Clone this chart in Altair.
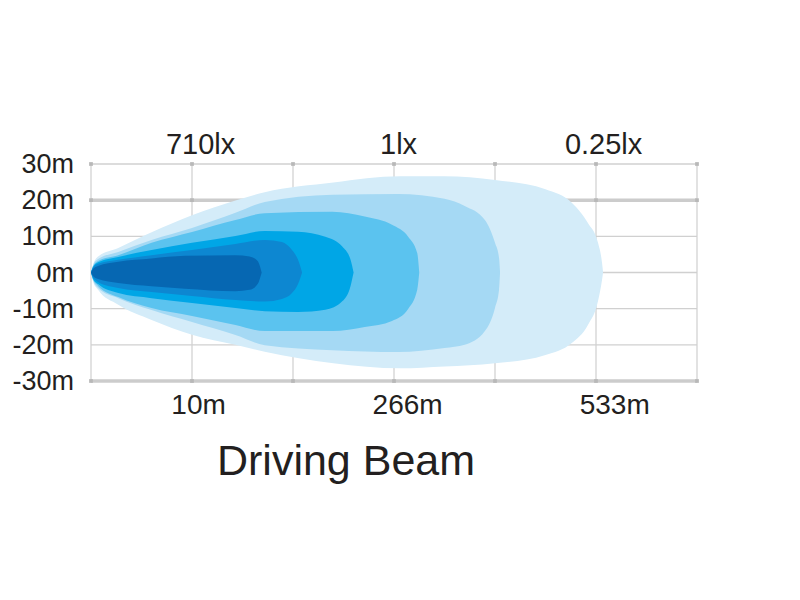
import altair as alt
import pandas as pd

# ---- beam contour levels (outer -> inner); x in grid units (0..6), y in metres ----
level_names = ["0.25lx", "1lx", "5lx", "20lx", "100lx", "710lx"]
level_colors = ["#d4ecf9", "#a5d9f4", "#5bc3ef", "#00a6e6", "#0d87d1", "#0667b2"]

u6 = [0, 0.02, 0.07, 0.27, 0.60, 1.00, 1.43, 1.72, 2.40, 3.06, 3.50, 4.00, 4.50, 4.76, 4.92, 5.02, 5.06, 5.07]
top6 = [0, 2.1, 4.4, 6.8, 11.1, 15.8, 19.9, 22.2, 24.9, 26.6, 26.6, 25.6, 23.0, 19.3, 13.7, 8.2, 2.6, 0]
bot6 = [0, -2.4, -4.8, -8.9, -13.1, -17.2, -20.0, -21.9, -25.1, -26.5, -26.0, -25.1, -22.8, -19.5, -14.5, -7.9, -2.0, 0]

u5 = [0, 0.02, 0.07, 0.27, 0.60, 1.00, 1.43, 1.72, 2.39, 3.04, 3.50, 3.70, 3.90, 4.00, 4.04, 4.05]
top5 = [0, 1.9, 3.7, 5.7, 9.0, 12.3, 16.5, 19.5, 21.5, 21.7, 20.4, 18.4, 14.5, 8.2, 4.0, 0]
bot5 = [0, -2.1, -4.3, -7.1, -10.4, -13.7, -17.3, -20.1, -21.5, -22.0, -20.9, -20.0, -16.2, -9.8, -4.8, 0]

u4 = [0, 0.02, 0.07, 0.27, 0.60, 1.00, 1.43, 1.72, 2.39, 2.71, 2.98, 3.14, 3.23, 3.25]
top4 = [0, 1.7, 3.2, 4.8, 8.2, 11.2, 14.5, 16.4, 16.8, 15.5, 13.2, 9.9, 5.4, 0]
bot4 = [0, -1.9, -3.7, -6.8, -9.8, -12.0, -14.5, -16.2, -16.2, -15.1, -13.4, -10.1, -4.8, 0]

u3 = [0, 0.02, 0.07, 0.27, 0.60, 1.00, 1.43, 1.72, 2.05, 2.32, 2.49, 2.57, 2.60]
top3 = [0, 1.5, 2.8, 4.3, 6.2, 8.2, 10.1, 11.5, 11.3, 9.9, 7.1, 3.5, 0]
bot3 = [0, -1.7, -3.2, -5.7, -7.1, -8.4, -9.8, -10.7, -10.9, -10.3, -7.9, -3.7, 0]

u2 = [0, 0.02, 0.07, 0.27, 0.60, 1.00, 1.43, 1.72, 1.89, 1.99, 2.05, 2.09]
top2 = [0, 1.3, 2.4, 3.5, 4.8, 6.2, 7.9, 9.0, 8.4, 6.2, 3.5, 0]
bot2 = [0, -1.4, -2.6, -4.3, -5.4, -6.5, -7.6, -8.0, -7.3, -5.7, -3.2, 0]

u1 = [0, 0.02, 0.07, 0.27, 0.60, 0.93, 1.43, 1.57, 1.65, 1.69]
top1 = [0, 1.0, 1.8, 3.0, 3.9, 4.6, 4.8, 4.4, 3.2, 0]
bot1 = [0, -1.0, -1.8, -2.9, -3.8, -4.5, -5.2, -4.8, -3.2, 0]

# ---- grid / axis labels ----
grid_x = [0, 1, 2, 3, 4, 5, 6]
y_ticks = [30, 20, 10, 0, -10, -20, -30]
y_labels = ["30m", "20m", "10m", "0m", "-10m", "-20m", "-30m"]
minor_y = [30, 10, 0, -10, -20]
major_y = [20, -30]
marker_y = [30, 20, -30]

top_labels = ["710lx", "1lx", "0.25lx"]
top_label_pos = [1.08, 3.04, 5.07]
bottom_labels = ["10m", "266m", "533m"]
bottom_label_pos = [1.06, 3.13, 5.18]

title_text = "Driving Beam"

# ---- build tables ----
profiles = [(u6, top6, bot6), (u5, top5, bot5), (u4, top4, bot4),
            (u3, top3, bot3), (u2, top2, bot2), (u1, top1, bot1)]
rows = []
for name, (us, ts, bs) in zip(level_names, profiles):
    for u, t, b in zip(us, ts, bs):
        rows.append({"level": name, "u": u, "top": t, "bottom": b})
beam = pd.DataFrame(rows)

W, H = 606, 217
FONT = "Liberation Sans"
TEXT = "#231f20"
xs = alt.Scale(domain=[0, 6], nice=False, zero=False)
ys = alt.Scale(domain=[-30, 30], nice=False, zero=False)


def label_expr(values, labels):
    expr = "''"
    for v, l in reversed(list(zip(values, labels))):
        expr = f"abs(datum.value - ({v})) < 0.001 ? '{l}' : ({expr})"
    return expr


vgrid = alt.Chart(pd.DataFrame({"u": grid_x})).mark_rule(color="#d3d3d3", strokeWidth=1.3).encode(
    x=alt.X("u:Q", scale=xs, axis=alt.Axis(
        orient="top", values=top_label_pos, labelExpr=label_expr(top_label_pos, top_labels),
        grid=False, ticks=False, domain=False, title=None,
        labelFont=FONT, labelFontSize=29, labelColor=TEXT, labelPadding=5)),
    y=alt.value(0), y2=alt.value(H))

hminor = alt.Chart(pd.DataFrame({"m": minor_y})).mark_rule(color="#d0d0d0", strokeWidth=1.4).encode(
    y=alt.Y("m:Q", scale=ys, axis=None),
    x=alt.value(0), x2=alt.value(W))

hmajor = alt.Chart(pd.DataFrame({"m": major_y})).mark_rule(color="#cccccc", strokeWidth=3.5).encode(
    y=alt.Y("m:Q", scale=ys, axis=None),
    x=alt.value(0), x2=alt.value(W))

markers = pd.DataFrame([{"u": u, "m": m} for m in marker_y for u in grid_x])
squares = alt.Chart(markers).mark_square(size=14, color="#b8b8b8", opacity=1).encode(
    x=alt.X("u:Q", scale=xs, axis=alt.Axis(
        orient="bottom", values=bottom_label_pos, labelExpr=label_expr(bottom_label_pos, bottom_labels),
        grid=False, ticks=False, domain=False, title=None,
        labelFont=FONT, labelFontSize=28, labelColor=TEXT, labelPadding=10)),
    y=alt.Y("m:Q", scale=ys, axis=None))

ylab = alt.Chart(pd.DataFrame({"m": y_ticks, "lab": y_labels})).mark_text(
    font=FONT, fontSize=27, color=TEXT, align="right", baseline="middle", dx=-17, dy=1
).encode(
    y=alt.Y("m:Q", scale=ys, axis=None),
    x=alt.value(0),
    text="lab:N")

areas = []
for name, col in zip(level_names, level_colors):
    areas.append(
        alt.Chart(beam).transform_filter(alt.datum.level == name)
        .mark_area(color=col, opacity=1, interpolate="monotone", orient="vertical")
        .encode(x=alt.X("u:Q", scale=xs, axis=None),
                y=alt.Y("top:Q", scale=ys, axis=None, stack=None),
                y2="bottom:Q")
    )

chart = alt.layer(vgrid, hminor, hmajor, squares, ylab, *areas).properties(
    width=W, height=H,
    autosize=alt.AutoSizeParams(type="none"),
    padding={"left": 83, "top": 156, "right": 90, "bottom": 140},
    title=alt.TitleParams(title_text, orient="bottom", anchor="middle", fontSize=43, font=FONT,
                          fontWeight="normal", color=TEXT, offset=56, dx=-48, baseline="alphabetic"),
    background="white",
).configure_view(stroke=None)

chart.save("out.html", embed_options={"renderer": "svg", "actions": False})
